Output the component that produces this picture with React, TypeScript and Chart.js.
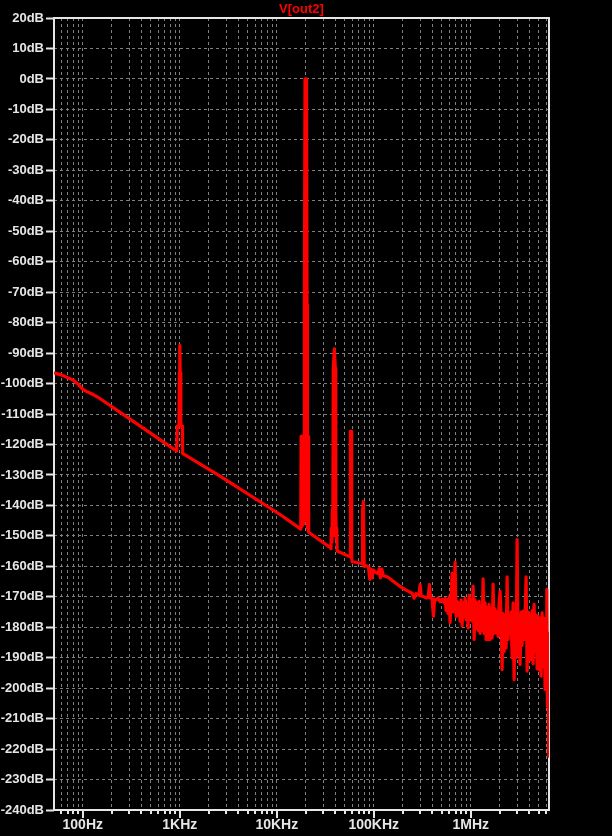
import React, { useEffect, useRef } from "react";
import { Chart, registerables } from "chart.js";

Chart.register(...registerables);

// ---------- text / axis values ----------
const TITLE = "V[out2]";
const X_MIN_HZ = 50.5;
const X_MAX_HZ = 6.4e6;
const Y_MIN_DB = -240;
const Y_MAX_DB = 20;
const Y_STEP_DB = 10;

const decadeHz = [100, 1000, 10000, 100000, 1000000];
const decadeLabels = ["100Hz", "1KHz", "10KHz", "100KHz", "1MHz"];
const gridDecades = [10, 100, 1000, 10000, 100000, 1000000];
const gridSteps = [1, 2, 3, 4, 5, 6, 7, 8, 9];

// ---------- trace V[out2] : [frequency Hz, level dB] ----------
const floorLow: [number, number][] = [
  [50.5, -96.5], [63, -97.4], [71, -98.2], [80, -98.9], [90, -100.3],
  [101, -102.0], [111, -102.7], [128, -103.6], [150, -104.9], [332, -112.4],
  [930, -122.2],
];

const tone1k: [number, number][] = [
  [942, -114], [980, -114], [990, -96.5], [1000, -87.5], [1010, -96.5],
  [1025, -114], [1062, -114],
];

const floorMid: [number, number][] = [
  [1068, -122.9], [2600, -130.4], [10800, -143.0], [17700, -147.8],
];

const tone20k: [number, number][] = [
  [17800, -117.3], [18000, -147.0], [18200, -117.3], [18400, -146.5],
  [18600, -117.3], [18800, -146.0], [19000, -117.3], [19150, -145.0],
  [19250, -74.1], [19550, 0], [20250, 0], [20500, -74.1],
  [20550, -147.5], [20700, -117.3], [20900, -147.5], [21100, -117.3],
  [21300, -148.8], [35400, -153.8],
];

const tone40k: [number, number][] = [
  [36200, -154.2], [36500, -147.4], [37000, -152.0], [37400, -141.2],
  [37800, -150.0], [38200, -94.9], [39200, -88.6], [40100, -94.9],
  [40400, -150.0], [40700, -141.2], [41100, -151.0], [41500, -147.4],
  [41900, -155.0],
];

const tone60k: [number, number][] = [
  [57000, -156.9], [57300, -126.0], [57600, -115.7], [58600, -115.7],
  [59200, -157.4], [60000, -158.5], [73500, -159.0],
];

const tone80k: [number, number][] = [
  [75800, -159.2], [76200, -141.6], [77000, -141.6], [78000, -138.8],
  [79000, -138.8], [79700, -160.0], [81000, -159.6],
];

const floorHigh: [number, number][] = [
  [88000, -160.2], [91000, -164.3], [93000, -160.8], [96000, -163.8],
  [99000, -161.2], [104000, -162.0], [110000, -162.4], [114000, -160.8],
  [117000, -163.8], [121000, -160.9], [125000, -163.0], [140000, -163.6],
  [160000, -165.0], [186700, -166.6],
];

const hfLine: [number, number][] = [
  [200500, -167.3], [215300, -167.8], [231200, -168.3], [248200, -168.8],
  [260300, -170.5], [272900, -169.0], [293100, -169.5], [300100, -166.0],
  [307300, -169.7], [330000, -170.0], [346100, -170.4], [362900, -170.3],
  [374300, -166.0], [385000, -170.5], [399000, -170.6], [411600, -176.4],
  [423400, -170.8], [438800, -171.0], [460100, -170.4], [482500, -171.6],
  [505900, -170.8], [530500, -172.0],
];

const hfNoise: [number, number][] = [
  [543300, -170.5], [556300, -174.5], [569700, -171.0], [583400, -175.5],
  [597400, -170.0], [611700, -178.5], [626400, -170.5], [641500, -162.2],
  [656900, -175.0], [672700, -171.0], [688800, -158.7], [705400, -176.5],
  [722300, -171.5], [739700, -176.0], [757500, -172.0], [775700, -178.0],
  [794300, -171.0], [813400, -179.6], [832900, -172.0], [852900, -176.5],
  [873400, -170.5], [894400, -177.5], [915900, -172.5], [937900, -180.2],
  [960400, -169.5], [983500, -177.0], [1007100, -171.0], [1031300, -178.0],
  [1056100, -166.5], [1081400, -184.0], [1107400, -171.0], [1134000, -180.5],
  [1161300, -172.0], [1189200, -181.0], [1217700, -171.5], [1247000, -182.0],
  [1276900, -173.0], [1307600, -181.0], [1339000, -164.1], [1371200, -182.0],
  [1404100, -172.0], [1437900, -184.0], [1472400, -173.5], [1507800, -184.0],
  [1544000, -172.5], [1581100, -184.0], [1619100, -174.0], [1658000, -183.5],
  [1697800, -165.8], [1738600, -182.0], [1780400, -174.0], [1823100, -181.8],
  [1866900, -175.0], [1911800, -183.0], [1957700, -172.0], [2004700, -168.2],
  [2052900, -176.0], [2102200, -193.9], [2152700, -175.5], [2204400, -188.0],
  [2257400, -176.0], [2311600, -186.8], [2367100, -163.5], [2424000, -184.0],
  [2482200, -176.0], [2541800, -182.0], [2602900, -175.0], [2665400, -190.0],
  [2729400, -172.0], [2795000, -197.2], [2862100, -176.0], [2930900, -190.0],
  [3001300, -151.2], [3073400, -189.0], [3147200, -176.0], [3222800, -192.2],
  [3300200, -175.0], [3379500, -186.0], [3460700, -174.7], [3543800, -184.0],
  [3628900, -175.5], [3716100, -163.5], [3805400, -194.4], [3896800, -175.0],
  [3990400, -191.0], [4086200, -176.0], [4184400, -190.6], [4284900, -174.5],
  [4387800, -192.0], [4493200, -172.5], [4601100, -188.0], [4711600, -176.0],
  [4824800, -193.6], [4940700, -176.4], [5059400, -194.0], [5180900, -177.0],
  [5305300, -196.1], [5432800, -175.3], [5563300, -193.0], [5696900, -177.0],
  [5833700, -200.4], [5973800, -178.0], [6074000, -167.6], [6161000, -205.9],
  [6264200, -182.0], [6369000, -222.3],
];

const traceSegments = [
  floorLow, tone1k, floorMid, tone20k, tone40k, tone60k, tone80k,
  floorHigh, hfLine, hfNoise,
];

// ---------- styles ----------
const FONT = "'Liberation Sans', Arial, sans-serif";
const AXIS_COLOR = "#e6e6e6";
const GRID_COLOR = "#808080";
const TRACE_COLOR = "#ff0000";

const framePlugin = {
  id: "ltspiceFrame",
  beforeDatasetsDraw(chart: any) {
    const { ctx, chartArea: a } = chart;
    const xs = chart.scales.x;
    ctx.save();
    ctx.setLineDash([]);
    ctx.strokeStyle = AXIS_COLOR;
    ctx.lineWidth = 2;
    ctx.strokeRect(a.left, a.top, a.right - a.left, a.bottom - a.top);
    for (const t of xs.ticks) {
      const px = Math.round(xs.getPixelForValue(t.value));
      const len = decadeHz.includes(t.value) ? 8 : 4;
      ctx.beginPath();
      ctx.moveTo(px, a.bottom);
      ctx.lineTo(px, a.bottom + len);
      ctx.stroke();
    }
    ctx.restore();
  },
  afterDraw(chart: any) {
    const { ctx, chartArea: a } = chart;
    ctx.save();
    ctx.fillStyle = TRACE_COLOR;
    ctx.font = `bold 13px ${FONT}`;
    ctx.textAlign = "center";
    ctx.textBaseline = "middle";
    ctx.fillText(TITLE, (a.left + a.right) / 2, 9.5);
    ctx.restore();
  },
};

export default function App() {
  const ref = useRef<HTMLCanvasElement>(null);

  useEffect(() => {
    if (!ref.current) return;
    const points = traceSegments.flatMap((seg) =>
      seg.map(([f, db]) => ({ x: f, y: db }))
    );
    const gridHz = gridDecades
      .flatMap((d) => gridSteps.map((s) => s * d))
      .filter((v) => v > X_MIN_HZ && v < X_MAX_HZ);

    const chart = new Chart(ref.current, {
      type: "line",
      data: {
        datasets: [
          {
            label: TITLE,
            data: points,
            borderColor: TRACE_COLOR,
            backgroundColor: TRACE_COLOR,
            borderWidth: 3.2,
            pointRadius: 0,
            pointHoverRadius: 0,
            fill: false,
            tension: 0,
            borderJoinStyle: "round",
            borderCapStyle: "butt",
          },
        ],
      },
      options: {
        animation: false,
        responsive: false,
        maintainAspectRatio: false,
        devicePixelRatio: 1,
        events: [],
        layout: { padding: { left: 0, top: 18, right: 63, bottom: 0 } },
        plugins: {
          legend: { display: false },
          title: { display: false },
          tooltip: { enabled: false },
        },
        scales: {
          x: {
            type: "logarithmic",
            min: X_MIN_HZ,
            max: X_MAX_HZ,
            bounds: "data",
            afterBuildTicks: (axis: any) => {
              axis.ticks = gridHz.map((v) => ({ value: v }));
            },
            afterFit: (axis: any) => {
              axis.height = 26;
            },
            grid: {
              color: GRID_COLOR,
              lineWidth: 1,
              drawTicks: false,
              drawOnChartArea: true,
            },
            border: { display: false, dash: [3, 3] },
            ticks: {
              autoSkip: false,
              maxRotation: 0,
              minRotation: 0,
              padding: 7,
              color: AXIS_COLOR,
              font: { family: FONT, size: 14, weight: "bold" },
              callback: (v: any) => {
                const i = decadeHz.indexOf(Number(v));
                return i >= 0 ? decadeLabels[i] : "";
              },
            },
          },
          y: {
            type: "linear",
            min: Y_MIN_DB,
            max: Y_MAX_DB,
            afterFit: (axis: any) => {
              axis.width = 54;
            },
            grid: {
              color: GRID_COLOR,
              lineWidth: 1,
              drawTicks: true,
              tickLength: 8,
              tickColor: AXIS_COLOR,
              tickWidth: 2,
              tickBorderDash: [],
            },
            border: { display: false, dash: [3, 3] },
            ticks: {
              stepSize: Y_STEP_DB,
              autoSkip: false,
              padding: 2,
              color: AXIS_COLOR,
              font: { family: FONT, size: 13, weight: "bold" },
              callback: (v: any) => `${v}dB`,
            },
          },
        },
      },
      plugins: [framePlugin],
    } as any);

    return () => chart.destroy();
  }, []);

  return (
    <div
      style={{
        position: "absolute",
        left: 0,
        top: 0,
        width: 612,
        height: 836,
        background: "#000",
      }}
    >
      <canvas
        ref={ref}
        width={612}
        height={836}
        style={{ display: "block", width: 612, height: 836 }}
      />
    </div>
  );
}
